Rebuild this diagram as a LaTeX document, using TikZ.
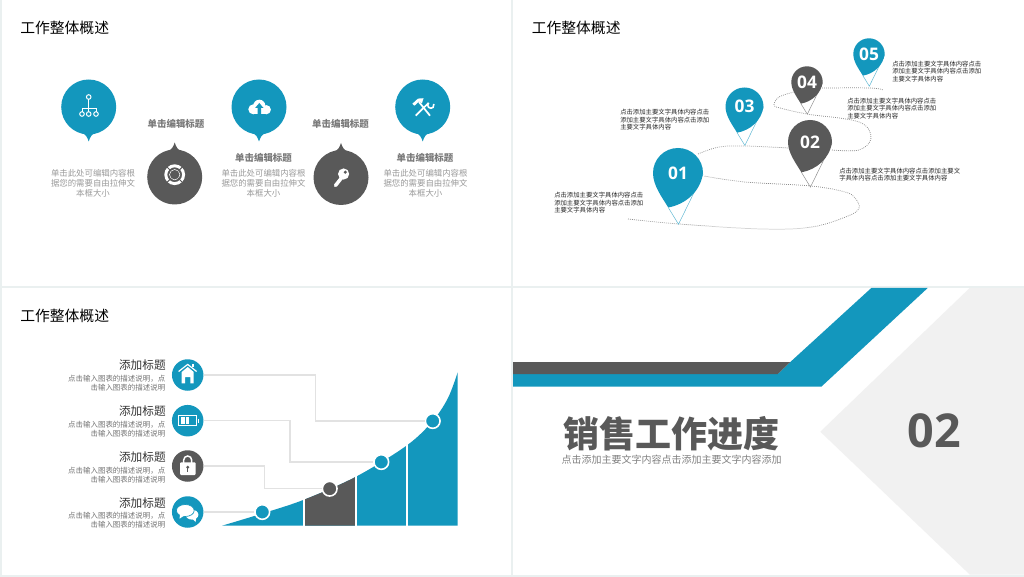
\documentclass[tikz,border=0pt]{standalone}
\usepackage{fontspec}
\setmainfont{Noto Sans CJK SC}
\newfontfamily\numfont{Open Sans}
\usepackage{tikz}
\definecolor{tealblue}{HTML}{1397BD}
\definecolor{slate}{HTML}{595959}
\definecolor{paneledge}{HTML}{EAF0F0}
\definecolor{wedge}{HTML}{F1F1F1}
\definecolor{linkgrey}{HTML}{E2E2E2}
\definecolor{softtext}{HTML}{9A9A9A}
\newcommand{\fsz}[2]{\fontsize{#1}{#2}\selectfont}
\newcommand{\pinbody}{点击添加主要文字具体内容}

\begin{document}
\begin{tikzpicture}[
		x=0.75pt, y=-0.75pt,
		every node/.style={inner sep=0pt, align=center},
		sheet/.style={fill=white},
		headline/.style={anchor=west, font=\fsz{11.1}{13}, text=black},
		disc/.style={circle, minimum size=#1*0.75pt},
		caption/.style={font=\bfseries\fsz{7.1}{9}, text=slate!80},
		blurb/.style={font=\fsz{6.3}{7.5}, text=softtext},
		pintext/.style={anchor=north west, align=left, font=\fsz{4.77}{5.5}, text=black!85},
		stepname/.style={anchor=east, font=\fsz{8.75}{10}, text=black!80},
		stepnote/.style={anchor=north east, align=right, font=\fsz{5.6}{6.55}, text=black!55},
		link/.style={draw=linkgrey, line width=0.9pt},
		trail/.style={draw=black!45, line width=0.55pt, dash pattern=on 0.6pt off 0.9pt},
		glyph/.style={draw=white, line width=0.75pt},
		marker/.style={circle, draw=white, line width=1.2pt, minimum size=11pt}
	]
  % sheets
  \fill[paneledge] (0,0) rectangle (1024,577);
  \fill[sheet] (2,0) rectangle (510.5,286);
  \fill[sheet] (513,0) rectangle (1024,286);
  \fill[sheet] (2,288) rectangle (510.5,574.5);
  \fill[sheet] (513,288) rectangle (1024,574.5);

  \node (title_a) [headline] at (20,28) {工作整体概述};
  \node (title_b) [headline] at (531.5,28) {工作整体概述};
  \node (title_c) [headline] at (20,316) {工作整体概述};

  % balloons, top left sheet
  \foreach \name/\px/\py/\col/\flip in {tree/88.7/107/tealblue/1, cloud/259/107/tealblue/1, tools/422.7/107/tealblue/1, buoy/174.7/177/slate/-1, keyy/341/177.5/slate/-1} {
    \node (ball_\name) [disc=55, fill=\col] at (\px,\py) {};
    \fill[\col, shift={(\px,\py)}, yscale=\flip] (-7,26) .. controls (-3,27) and (-1.5,30) .. (0,34.5) .. controls (1.5,30) and (3,27) .. (7,26) -- cycle;
  }
  % tree icon
  \draw[glyph] (88.7,97) circle (2.3);
  \draw[glyph] (88.7,99.3) -- (88.7,111.7);
  \draw[glyph] (82,111.7) -- (82,108.5) -- (96,108.5) -- (96,111.7);
  \draw[glyph] (82,114) circle (2.3);
  \draw[glyph] (88.7,114) circle (2.3);
  \draw[glyph] (96,114) circle (2.3);
  % cloud icon
  \fill[white] (259.3,105.7) circle (6);
  \fill[white] (253.3,109.3) circle (5);
  \fill[white] (266.3,109.7) circle (4.6);
  \fill[white] (253.3,108) rectangle (266.3,114.3);
  \fill[tealblue] (259.3,103) -- (263.5,108) -- (261,108) -- (261,114.3) -- (257.6,114.3) -- (257.6,108) -- (255.1,108) -- cycle;
  % tools icon
  \draw[glyph, line width=1.3pt] (430,115.7) -- (419,102);
  \fill[white] (412.3,103.8) -- (418,98.6) -- (423.5,98.2) -- (422,103.2) -- (419,101.5) -- (414.5,105.7) -- cycle;
  \draw[glyph, line width=1.3pt] (415.7,115.7) -- (428.5,103);
  \draw[glyph, line width=1.2pt] (428.6,102.8) arc[start angle=225, end angle=-20, radius=3.2];
  % buoy icon
  \draw[glyph, line width=2.2pt] (174.7,174.7) circle (8.9);
  \draw[glyph, line width=0.4pt] (174.7,174.7) circle (5.2);
  \foreach \ang in {45,135,225,315}
    \draw[slate, line width=0.7pt] (174.7,174.7) ++(\ang:5) -- ++(\ang:7);
  % key icon
  \draw[white, line width=2.6pt, line cap=round] (343,176) -- (335.5,185.5);
  \fill[white] (343.6,174) circle (5.6);
  \fill[slate] (345.3,172.2) circle (1.7);

  \node (head_b) [caption] at (176,123.5) {单击编辑标题};
  \node (head_d) [caption] at (340.5,123.5) {单击编辑标题};
  \node (head_c) [caption] at (263.5,157.5) {单击编辑标题};
  \node (head_e) [caption] at (425,157.5) {单击编辑标题};
  \node (blurb_a) [blurb] at (93,183.5) {单击此处可编辑内容根\\据您的需要自由拉伸文\\本框大小};
  \node (blurb_c) [blurb] at (263.5,183.5) {单击此处可编辑内容根\\据您的需要自由拉伸文\\本框大小};
  \node (blurb_e) [blurb] at (425.5,183.5) {单击此处可编辑内容根\\据您的需要自由拉伸文\\本框大小};

  % dotted road under the pins
  \draw[trail] plot[smooth, tension=0.6] coordinates {(628,219) (679,224) (762,229) (812,227) (848,216) (859,208) (855,198) (845,192) (811,186) (745,182) (704,176)};
  \draw[trail] plot[smooth, tension=0.6] coordinates {(698,154) (719,147) (745,146) (789,148)};
  \draw[trail] plot[smooth, tension=0.6] coordinates {(832,150) (859,150) (871,138) (859,122) (807,114) (780,108) (774,105) (779,97) (794,92)};
  \draw[trail] plot[smooth, tension=0.6] coordinates {(822,88) (870,88) (883,90)};

  % pins
  \foreach \name/\px/\py/\rad/\col/\num in {one/678/173/25/tealblue/01, three/744.5/106.5/19/tealblue/03, two/810/142/22/slate/02, four/807/82/15.7/slate/04, five/869/54/15.7/tealblue/05} {
    \begin{scope}[shift={(\px,\py)}, scale=\rad]
      \draw[\col!70, line width=0.35pt] (-0.39,1.38) -- (0.02,2.05) -- (1,0.05);
      \fill[\col] (1,0) arc[start angle=0, end angle=-180, radius=1] .. controls (-1,0.5) and (-0.65,0.95) .. (-0.39,1.38) .. controls (0.3,1.25) and (0.9,0.75) .. (1,0) -- cycle;
    \end{scope}
    \node (pin_\name) [text=white, font=\numfont\bfseries\fsz{13}{15}] at (\px,\py) {\num};
  }
  \node (note_one) [pintext] at (554,192.3) {\pinbody 点击\\添加主要文字具体内容点击添加\\主要文字具体内容};
  \node (note_three) [pintext] at (620,109.3) {\pinbody 点击\\添加主要文字具体内容点击添加\\主要文字具体内容};
  \node (note_four) [pintext] at (847,98) {\pinbody 点击\\添加主要文字具体内容点击添加\\主要文字具体内容};
  \node (note_five) [pintext] at (892,60.7) {\pinbody 点击\\添加主要文字具体内容点击添加\\主要文字具体内容};
  \node (note_two) [pintext] at (839,167.7) {\pinbody 点击添加主要文\\字具体内容点击添加主要文字具体内容};

  % growth area
  \def\growth{plot[smooth, tension=0.55] coordinates {(222,525.7) (262.3,513.5) (304,499.7) (356,476.7) (407,445.3) (432.7,421) (448,398) (457.7,372.3)} -- (457.7,525.7) -- cycle}
  \fill[tealblue] \growth;
  \begin{scope}
    \clip \growth;
    \fill[slate] (304,460) rectangle (356,526);
  \end{scope}
  \fill[white] (303.4,430) rectangle (305.4,527);
  \fill[white] (354.8,430) rectangle (356.8,527);
  \fill[white] (406.4,400) rectangle (408.4,527);

  \foreach \name/\py/\col in {home/375/tealblue, cell/420.7/tealblue, lock/466/slate, chat/512/tealblue} {
    \node (icon_\name) [disc=31.5, fill=\col] at (187.7,\py) {};
  }
  \foreach \name/\py in {home/365.3, cell/411, lock/457, chat/503} {
    \node (name_\name) [stepname] at (166,\py) {添加标题};
  }
  \foreach \name/\py in {home/374.7, cell/420.7, lock/466.7, chat/512.3} {
    \node (text_\name) [stepnote] at (165.5,\py) {点击输入图表的描述说明，点\\击输入图表的描述说明};
  }
  \node (dot_chat) [marker, fill=tealblue] at (262.3,512) {};
  \node (dot_lock) [marker, fill=slate] at (329.7,488.7) {};
  \node (dot_cell) [marker, fill=tealblue] at (381.3,462) {};
  \node (dot_home) [marker, fill=tealblue] at (432.7,421) {};
  \coordinate (bend_home) at (315.7,375);
  \coordinate (bend_cell) at (290,420.7);
  \coordinate (bend_lock) at (264.3,466);
  \draw[link] (icon_home.east) -- (bend_home) |- (dot_home.west);
  \draw[link] (icon_cell.east) -- (bend_cell) |- (dot_cell.west);
  \draw[link] (icon_lock.east) -- (bend_lock) |- (dot_lock.west);
  \draw[link] (icon_chat.east) -- (dot_chat.west);
  % home icon
  \fill[white] (181.7,372) -- (187.7,367) -- (193.7,372) -- (193.7,383.3) -- (190.3,383.3) -- (190.3,377) -- (185.1,377) -- (185.1,383.3) -- (181.7,383.3) -- cycle;
  \draw[white, line width=0.9pt, line join=round] (178.6,371.5) -- (187.7,364.4) -- (196.6,371.5);
  \fill[white] (191.5,363.5) rectangle (194,367);
  % cell icon
  \draw[glyph] (178.5,415.2) rectangle (196.5,425.8);
  \fill[white] (198,418.5) rectangle (199,423);
  \fill[white] (180.8,417.3) rectangle (184.6,423.7);
  \fill[white] (185.6,417.3) rectangle (189.4,423.7);
  % lock icon
  \draw[white, line width=1.1pt] (183.7,463) -- (183.7,460) arc[start angle=180, end angle=360, radius=4] -- (191.7,463);
  \fill[white, rounded corners=0.8pt] (180,462.3) rectangle (195.7,475);
  \fill[slate] (187.7,467.3) circle (1.6);
  \fill[slate] (187,467.5) rectangle (188.4,471.5);
  % chat icon
  \fill[white] (192,514.7) ellipse (6.4 and 4.9);
  \fill[white] (191,517) -- (195.5,522) -- (196.5,516) -- cycle;
  \fill[white, draw=tealblue, line width=0.5pt] (185.3,510.5) ellipse (8.9 and 6);
  \fill[white] (180,514) -- (179.6,518.7) -- (185,515) -- cycle;

  % closing sheet
  \fill[wedge] (969.7,288) -- (1024,288) -- (1024,574.5) -- (969.7,574.5) -- (820.3,431.7) -- cycle;
  \fill[tealblue] (513,374) -- (777.7,374) -- (790.3,362) -- (871.3,288) -- (927.7,288) -- (821.3,386.7) -- (513,386.7) -- cycle;
  \fill[slate] (513,362) -- (790.3,362) -- (777.7,374) -- (513,374) -- cycle;
  \node (big_title) [font=\bfseries\fsz{27}{30}, text=slate] at (671.7,433.5) {销售工作进度};
  \node (big_note) [font=\fsz{7.5}{9}, text=black!50] at (671.7,460) {点击添加主要文字内容点击添加主要文字内容添加};
  \node (big_num) [font=\numfont\bfseries\fsz{35}{40}, text=slate] at (934.3,430.5) {02};
\end{tikzpicture}
\end{document}
